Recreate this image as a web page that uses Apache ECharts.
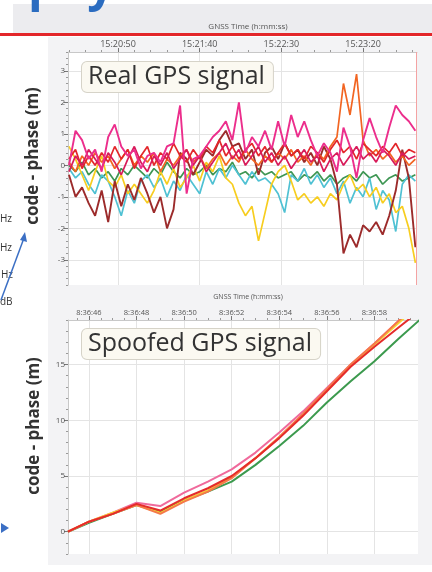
<!DOCTYPE html>
<html><head><meta charset="utf-8">
<script src="https://cdn.jsdelivr.net/npm/echarts@6/dist/echarts.min.js"></script>
<style>html,body{margin:0;padding:0;background:#fff}#c{width:432px;height:572px}</style>
</head><body><div id="c"></div>
<script>
// ---------- Real GPS signal (top chart), t = seconds after 15:20:00 ----------
const realTimes = [20,24,28,32,36,40,44,48,52,56,60,64,68,72,76,80,84,88,92,96,100,104,108,112,116,120,124,128,132,136,140,144,148,152,156,160,164,168,172,176,180,184,188,192,196,200,204,208,212,216,220,224,228,232];
const realHotPink = [0.0,1.1,0.8,0.2,0.5,-0.2,0.9,1.3,0.6,0.3, 0.5,-0.1,0.3,0.4,0.1,0.6,0.7,1.9,-0.9,0.2, 0.3,0.6,0.9,1.1,1.4,0.8,2.0,0.4,0.9,0.6, 1.1,0.5,1.4,0.6,1.6,0.9,1.4,0.8,0.3,0.7, 0.4,-0.2,1.2,0.6,-0.4,0.8,1.5,0.9,0.4,1.2, 1.9,1.6,1.4,1.1];
const realDarkRed = [-0.3,-1.0,-0.7,-1.2,-1.6,-0.8,-1.8,-0.5,-1.3,-0.6, -1.1,-0.4,-0.9,-1.5,-1.0,-2.0,-1.4,0.4,0.2,-0.3, 0.1,0.5,0.3,0.8,1.1,0.6,0.7,0.2,0.5,-0.3, 0.4,0.6,0.2,0.7,0.3,0.5,0.1,0.4,0.0,0.6, 0.2,-0.6,-2.8,-2.2,-2.6,-1.9,-2.1,-1.8,-2.2,-1.6, -0.8,0.5,-0.4,-2.6];
const realYellow = [0.6,0.2,-0.3,-0.8,-0.2,0.3,-0.5,-0.7,-0.3,-0.9, -0.6,-0.9,-1.2,-0.8,-0.2,-0.6,-0.1,-0.7,-0.4,0.0, -0.5,0.1,-0.2,0.3,-0.4,-0.6,-1.2,-1.6,-1.3,-2.4, -1.5,-0.6,-0.2,0.0,-0.5,-1.1,-0.9,-1.2,-1.0,-1.3, -0.9,-1.1,-0.6,-0.3,-0.8,-0.6,-1.0,-0.7,-1.2,-0.9, -1.5,-1.3,-2.0,-3.1];
const realCyan = [-0.1,-0.4,-0.2,-0.6,-0.9,-0.3,-0.5,-1.0,-1.6,-0.8, -1.2,-0.5,-0.3,-0.7,-0.4,-1.0,-0.5,-0.8,-0.3,-0.6, -0.9,-0.2,-0.6,-0.1,-0.4,0.0,-0.3,-0.6,-0.2,-0.5, -0.4,-0.6,-0.9,-1.5,-0.3,-0.5,-0.1,-0.6,-0.3,-0.7, -0.4,-0.9,-0.5,-1.2,-0.7,-1.0,-0.4,-1.4,-0.8,-1.1, -2.1,-0.6,-0.3,-0.5];
const realGreen = [0.0,-0.2,0.1,-0.3,-0.1,-0.4,-0.2,-0.5,-0.1,-0.3, 0.0,-0.2,-0.4,-0.1,-0.3,0.1,-0.2,-0.4,-0.1,-0.3, -0.2,0.0,-0.3,-0.1,-0.2,0.1,-0.3,-0.2,-0.4,-0.1, -0.3,-0.2,-0.4,-0.3,-0.2,-0.5,-0.3,-0.4,-0.2,-0.5, -0.3,-0.6,-0.4,-0.3,-0.5,-0.2,-0.4,-0.3,-0.6,-0.4, -0.3,-0.5,-0.4,-0.3];
const realRed = [0.2,0.5,-0.1,0.3,0.0,0.4,0.1,0.6,0.2,0.5, -0.1,0.3,0.6,0.0,0.4,0.2,0.7,0.3,0.1,0.5, 0.2,0.6,0.4,0.8,0.3,0.6,0.2,0.5,0.7,0.3, 0.6,0.1,0.4,0.7,0.3,0.5,0.2,0.6,0.4,0.1, 0.5,0.8,0.4,0.6,0.2,0.7,0.5,0.3,0.6,0.4, 0.7,0.3,0.5,0.4];
const realOrange = [0.1,-0.2,0.3,0.0,0.4,0.1,0.3,-0.1,0.2,0.5, 0.0,0.3,0.1,0.4,-0.2,0.2,0.0,0.3,0.5,0.1, 0.3,-0.1,0.2,0.4,0.0,0.3,0.1,0.5,0.2,0.0, 0.3,0.1,0.4,0.2,0.5,0.1,0.3,0.0,0.4,0.2, 0.6,0.9,2.6,1.6,2.9,0.8,0.3,0.5,0.2,0.4, 0.1,0.3,0.0,0.2];
const realCrimson = [-0.2,0.3,0.0,0.5,0.2,-0.1,0.4,0.1,-0.3,0.2, 0.6,0.1,-0.2,0.3,0.0,0.4,-0.1,0.2,0.5,0.0, 0.3,-0.2,0.1,0.4,0.7,0.2,0.5,0.0,0.3,0.6, 0.1,0.4,0.0,0.3,-0.1,0.2,0.5,0.1,0.3,-0.2, 0.2,0.4,0.0,0.3,0.6,0.2,0.4,0.1,0.5,0.3, 0.0,0.4,0.2,0.3];
const realTickValues = [50,100,150,200];
const realTickLabels = ['15:20:50','15:21:40','15:22:30','15:23:20'];
const realMinorTicks = [20,30,40,60,70,80,90,110,120,130,140,160,170,180,190,210,220,230];
const realYTicks = [-3,-2,-1,0,1,2,3];
const realYMinor = [-3.8,-3.6,-3.4,-3.2,-2.8,-2.6,-2.4,-2.2,-1.8,-1.6,-1.4,-1.2,-0.8,-0.6,-0.4,-0.2,0.2,0.4,0.6,0.8,1.2,1.4,1.6,1.8,2.2,2.4,2.6,2.8,3.2,3.4,3.6];
const realMarker = 232.6;

// ---------- Spoofed GPS signal (bottom chart), t = seconds after 8:36:00 ----------
const spoofTimes = [45.12,46,47,48,49,50,51,52,53,54,55,56,57,58,59,60];
const spoofGreen  = [0,0.8,1.6,2.4,1.8,2.8,3.6,4.5,6.0,7.7,9.5,11.6,13.5,15.3,17.3,19.2];
const spoofPink   = [0,0.9,1.7,2.6,2.3,3.5,4.5,5.6,7.1,8.9,10.8,12.9,15.0,16.9,18.9,20.8];
const spoofYellow = [0,0.9,1.7,2.4,1.7,2.8,3.7,4.9,6.6,8.5,10.5,12.7,14.9,16.8,18.7,20.6];
const spoofOrange = [0,0.9,1.6,2.4,1.6,2.7,3.6,4.8,6.6,8.5,10.6,12.8,15.0,16.9,18.9,20.8];
const spoofRed    = [0,0.9,1.6,2.5,1.9,3.0,3.9,5.0,6.6,8.4,10.4,12.6,14.8,16.6,18.3,20.0];
const spoofTickValues = [46,48,50,52,54,56,58];
const spoofTickLabels = ['8:36:46','8:36:48','8:36:50','8:36:52','8:36:54','8:36:56','8:36:58'];
const spoofMinorTicks = [45.5,46.5,47,47.5,48.5,49,49.5,50.5,51,51.5,52.5,53,53.5,54.5,55,55.5,56.5,57,57.5,58.5,59,59.5];
const spoofYTicks = [0,5,10,15];
const spoofYMinor = [-2,-1,1,2,3,4,6,7,8,9,11,12,13,14,16,17,18,19];

const pairs = (xs, ys) => xs.map((x, i) => [x, ys[i]]);
const FONT = '"Open Sans", "Noto Sans", sans-serif';

function lineSeries(name, xi, yi, xs, ys, color, w) {
  return {name, type:'line', xAxisIndex:xi, yAxisIndex:yi, data:pairs(xs, ys),
    showSymbol:false, symbol:'none', lineStyle:{color, width:w}, itemStyle:{color},
    clip:true, silent:true, animation:false};
}

function mainX(grid, min, max, vals, labels, size) {
  return {gridIndex:grid, type:'value', position:'top', min, max,
    axisLine:{show:true, onZero:false, lineStyle:{color:'#c8c8c8'}},
    axisTick:{show:true, customValues:vals, length:4, inside:false, lineStyle:{color:'#777'}},
    axisLabel:{customValues:vals, formatter:v => labels[vals.indexOf(v)] || '', fontSize:size, color:'#555', margin:3, fontFamily:FONT},
    splitLine:{show:true, lineStyle:{color:'#e4e4e4', width:1}}};
}
function minorX(grid, min, max, vals) {
  return {gridIndex:grid, type:'value', position:'top', min, max,
    axisLine:{show:false, onZero:false},
    axisTick:{show:true, customValues:vals, length:2, lineStyle:{color:'#999'}},
    axisLabel:{show:false}, splitLine:{show:false}};
}
function mainY(grid, min, max, vals, size) {
  return {gridIndex:grid, type:'value', position:'left', min, max,
    axisLine:{show:true, onZero:false, lineStyle:{color:'#c8c8c8'}},
    axisTick:{show:true, customValues:vals, length:4, lineStyle:{color:'#777'}},
    axisLabel:{customValues:vals, formatter:v => String(v), fontSize:size, color:'#555', margin:3, fontFamily:FONT},
    splitLine:{show:true, lineStyle:{color:'#e4e4e4', width:1}}};
}
function minorY(grid, min, max, vals) {
  return {gridIndex:grid, type:'value', position:'left', min, max,
    axisLine:{show:false, onZero:false},
    axisTick:{show:true, customValues:vals, length:2, lineStyle:{color:'#999'}},
    axisLabel:{show:false}, splitLine:{show:false}};
}

const topSeries = [
  lineSeries('green',0,0,realTimes,realGreen,'#3e9653',1.7),
  lineSeries('cyan',0,0,realTimes,realCyan,'#4fc1d3',1.7),
  lineSeries('yellow',0,0,realTimes,realYellow,'#f7cd1f',1.7),
  lineSeries('darkred',0,0,realTimes,realDarkRed,'#9c2b2b',1.9),
  lineSeries('orange',0,0,realTimes,realOrange,'#f26522',1.7),
  lineSeries('red',0,0,realTimes,realRed,'#e3262b',1.7),
  lineSeries('crimson',0,0,realTimes,realCrimson,'#d81b5a',1.7),
  lineSeries('hotpink',0,0,realTimes,realHotPink,'#ec2e8c',1.9)
];
topSeries[0].markLine = {silent:true, symbol:'none', label:{show:false},
  lineStyle:{color:'#f4a3a3', width:1, type:'solid'}, data:[{xAxis:realMarker}], animation:false};

const bottomSeries = [
  lineSeries('sgreen',2,2,spoofTimes,spoofGreen,'#3c9a4e',2),
  lineSeries('spink',2,2,spoofTimes,spoofPink,'#f06a9c',2),
  lineSeries('syellow',2,2,spoofTimes,spoofYellow,'#f7d530',2),
  lineSeries('sorange',2,2,spoofTimes,spoofOrange,'#f5794a',2),
  lineSeries('sred',2,2,spoofTimes,spoofRed,'#e52b2b',2)
];

const chart = echarts.init(document.getElementById('c'), null, {renderer:'canvas'});
chart.setOption({
  animation:false,
  backgroundColor:'#ffffff',
  grid:[
    {left:68, top:52, width:349, height:233, show:true, backgroundColor:'#ffffff', borderWidth:0, outerBoundsMode:'none', containLabel:false},
    {left:68, top:320, width:350, height:234, show:true, backgroundColor:'#ffffff', borderWidth:0, outerBoundsMode:'none', containLabel:false}
  ],
  xAxis:[
    mainX(0, 19.4, 233, realTickValues, realTickLabels, 9),
    minorX(0, 19.4, 233, realMinorTicks),
    mainX(1, 45.12, 59.83, spoofTickValues, spoofTickLabels, 7.5),
    minorX(1, 45.12, 59.83, spoofMinorTicks)
  ],
  yAxis:[
    mainY(0, -3.8, 3.6, realYTicks, 8),
    minorY(0, -3.8, 3.6, realYMinor),
    mainY(1, -2, 19, spoofYTicks, 8),
    minorY(1, -2, 19, spoofYMinor)
  ],
  series: topSeries.concat(bottomSeries),
  graphic:{elements:[
    {type:'rect', z:-100, shape:{x:13, y:4, width:419, height:31}, style:{fill:'#ececef'}, silent:true},
    {type:'rect', z:-100, shape:{x:48, y:37, width:384, height:253}, style:{fill:'#f3f3f5'}, silent:true},
    {type:'rect', z:-100, shape:{x:48, y:290, width:384, height:275}, style:{fill:'#f3f3f5'}, silent:true},
    {type:'text', z:-50, x:28, y:-38, style:{text:'pay', font:'bold 48px '+FONT, fill:'#2b6cc0'}, silent:true},
    {type:'text', z:50, x:248, y:27, style:{text:'GNSS Time (h:mm:ss)', font:'8px '+FONT, fill:'#555', align:'center', verticalAlign:'middle'}, silent:true},
    {type:'rect', z:100, shape:{x:0, y:33, width:432, height:3}, style:{fill:'#e3262a'}, silent:true},
    {type:'text', z:50, x:248, y:297, style:{text:'GNSS Time (h:mm:ss)', font:'7px '+FONT, fill:'#555', align:'center', verticalAlign:'middle'}, silent:true},
    {type:'text', z:50, x:33, y:156, rotation:Math.PI/2, style:{text:'code - phase (m)', font:'bold 17px '+FONT, fill:'#333', align:'center', verticalAlign:'middle'}, silent:true},
    {type:'text', z:50, x:34, y:426, rotation:Math.PI/2, style:{text:'code - phase (m)', font:'bold 17px '+FONT, fill:'#333', align:'center', verticalAlign:'middle'}, silent:true},
    {type:'text', z:60, x:82, y:62, style:{text:'Real GPS signal', font:'25px '+FONT, fill:'#333', backgroundColor:'#fbf9f1', borderColor:'#d6d3c8', borderWidth:1, borderRadius:5, padding:[2,8,3,6]}, silent:true},
    {type:'text', z:60, x:82, y:329, style:{text:'Spoofed GPS signal', font:'25px '+FONT, fill:'#333', backgroundColor:'#fbf9f1', borderColor:'#d6d3c8', borderWidth:1, borderRadius:5, padding:[2,8,3,6]}, silent:true},
    {type:'text', z:50, x:0, y:219, style:{text:'Hz', font:'10px '+FONT, fill:'#333', verticalAlign:'middle'}, silent:true},
    {type:'text', z:50, x:0, y:248, style:{text:'Hz', font:'10px '+FONT, fill:'#333', verticalAlign:'middle'}, silent:true},
    {type:'text', z:50, x:1, y:275, style:{text:'Hz', font:'10px '+FONT, fill:'#333', verticalAlign:'middle'}, silent:true},
    {type:'text', z:50, x:0, y:302, style:{text:'dB', font:'10px '+FONT, fill:'#333', verticalAlign:'middle'}, silent:true},
    {type:'line', z:50, shape:{x1:1, y1:300, x2:24, y2:238}, style:{stroke:'#3b6fc4', lineWidth:1.5}, silent:true},
    {type:'polygon', z:50, shape:{points:[[25,232],[20,240],[27,242]]}, style:{fill:'#3b6fc4'}, silent:true},
    {type:'polygon', z:50, shape:{points:[[9,528],[1,523],[1,533]]}, style:{fill:'#3b6fc4'}, silent:true}
  ]}
});
</script>
</body></html>
